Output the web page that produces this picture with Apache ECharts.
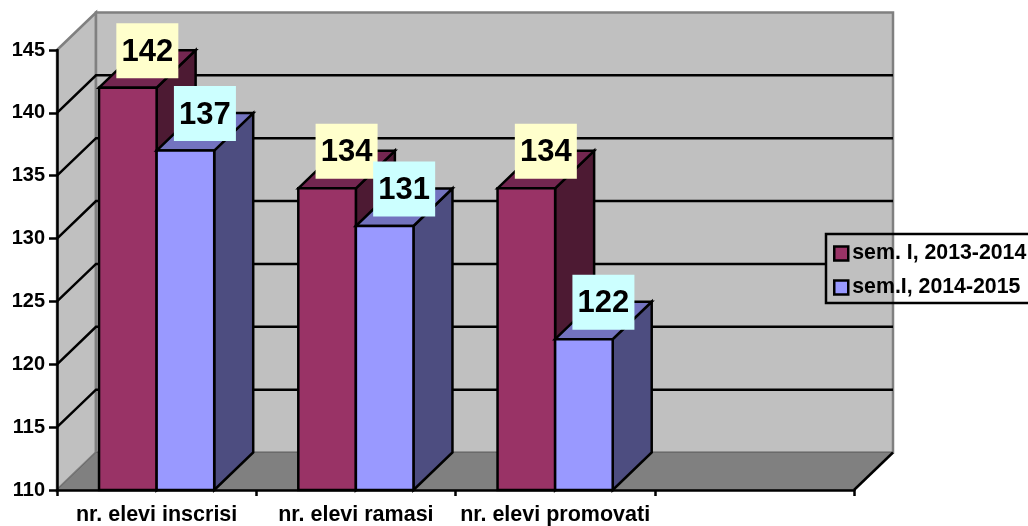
<!DOCTYPE html>
<html><head><meta charset="utf-8">
<style>html,body{margin:0;padding:0;background:#fff}#c{width:1028px;height:526px}</style>
<script src="https://cdn.jsdelivr.net/npm/echarts@6/dist/echarts.min.js"></script>
</head><body><div id="c"></div>
<script>
var categories = ['nr. elevi inscrisi', 'nr. elevi ramasi', 'nr. elevi promovati', ''];
var seriesNames = ['sem. I, 2013-2014', 'sem.I, 2014-2015'];
var sem1 = [142, 134, 134];
var sem2 = [137, 131, 122];
var gridValues = [115, 120, 125, 130, 135, 140];

var DX = 39, DY = 37.5, BAR = 0.289;
var LEGEND_LEFT = 826;
var FONT = '"Liberation Sans", Arial, sans-serif';

function wallsItem(params, api) {
  var cs = params.coordSys;
  var x0 = cs.x, x1 = cs.x + cs.width, y0 = cs.y, y1 = cs.y + cs.height;
  var ch = [];
  ch.push({type:'polygon', shape:{points:[[x0,y0],[x0+DX,y0-DY],[x0+DX,y1-DY],[x0,y1]]},
    style:{fill:'#C0C0C0', stroke:'#808080', lineWidth:2.5}});
  ch.push({type:'rect', shape:{x:x0+DX,y:y0-DY,width:cs.width,height:cs.height},
    style:{fill:'#C0C0C0', stroke:'#808080', lineWidth:2.5}});
  ch.push({type:'polygon', shape:{points:[[x0,y1],[x0+DX,y1-DY],[x1+DX,y1-DY],[x1,y1]]},
    style:{fill:'#808080', stroke:'#6A6A6A', lineWidth:1}});
  ch.push({type:'line', shape:{x1:x1,y1:y1,x2:x1+DX,y2:y1-DY}, style:{stroke:'#000',lineWidth:2.5}});
  gridValues.forEach(function (v) {
    var y = api.coord([0, v])[1];
    var end = x1 + DX;
    if (y - DY > 234 && y - DY < 303) end = LEGEND_LEFT;
    ch.push({type:'polyline', shape:{points:[[x0,y],[x0+DX,y-DY],[end,y-DY]]},
      style:{fill:null, stroke:'#000', lineWidth:2.5}});
  });
  return {type:'group', children:ch};
}

function barItem(slot, front, top, side, labelBg, z) {
  return function (params, api) {
    var p = api.coord([api.value(0), api.value(1)]);
    var band = api.size([1, 0])[0];
    var w = band * BAR;
    var l = p[0] - w + slot * w, r = l + w;
    var t = p[1], b = api.coord([0, 110])[1];
    var stroke = {stroke:'#000', lineWidth:2.5, lineJoin:'miter'};
    var lx = (l + r) / 2 + DX / 2, ly = t - DY;
    var val = String(api.value(1));
    return {type:'group', children:[
      {type:'polygon', z2:z, shape:{points:[[r,b],[r+DX,b-DY],[r+DX,t-DY],[r,t]]}, style:Object.assign({fill:side},stroke)},
      {type:'polygon', z2:z, shape:{points:[[l,t],[l+DX,t-DY],[r+DX,t-DY],[r,t]]}, style:Object.assign({fill:top},stroke)},
      {type:'rect', z2:z, shape:{x:l,y:t,width:w,height:b-t}, style:Object.assign({fill:front},stroke)},
      {type:'rect', z2:10, shape:{x:lx-31,y:ly-27,width:62,height:55}, style:{fill:labelBg}},
      {type:'text', z2:11, style:{x:lx,y:ly+2,text:val,fill:'#000',align:'center',verticalAlign:'middle',
        font:'bold 31px '+FONT}}
    ]};
  };
}

function rows(a) { return a.map(function (v, i) { return [i, v]; }); }

var chart = echarts.init(document.getElementById('c'), null, {renderer:'canvas'});
chart.setOption({
  animation:false,
  backgroundColor:'#fff',
  grid:{left:57, top:50, width:797, height:440, containLabel:false, outerBoundsMode:'none'},
  legend:{
    show:true, orient:'vertical', left:LEGEND_LEFT, top:234, data:seriesNames,
    padding:[9,8,5,7], itemWidth:14, itemHeight:14, itemGap:13, icon:'rect',
    borderColor:'#000', borderWidth:2.5, backgroundColor:'transparent',
    textStyle:{fontFamily:FONT, fontWeight:'bold', fontSize:21.3, color:'#000', padding:[0,0,0,-1]},
    itemStyle:{borderColor:'#000', borderWidth:2.5}, selectedMode:false
  },
  xAxis:{type:'category', data:categories, z:3,
    axisLine:{show:true, onZero:false, lineStyle:{color:'#000', width:2.5}},
    axisTick:{show:true, length:6, alignWithLabel:false, lineStyle:{color:'#000', width:2.5}},
    axisLabel:{interval:0, margin:14, color:'#000', fontFamily:FONT, fontWeight:'bold', fontSize:21.5},
    splitLine:{show:false}
  },
  yAxis:{type:'value', min:110, max:145, interval:5, z:3,
    axisLine:{show:true, lineStyle:{color:'#000', width:2.5}},
    axisTick:{show:true, length:8, lineStyle:{color:'#000', width:2.5}},
    axisLabel:{margin:12, color:'#000', fontFamily:FONT, fontWeight:'bold', fontSize:20},
    splitLine:{show:false}
  },
  series:[
    {type:'custom', name:'walls', silent:true, clip:false, z:1, renderItem:wallsItem,
     data:[[0,110]], encode:{x:0,y:1}},
    {type:'custom', name:seriesNames[0], silent:true, clip:false, z:2, itemStyle:{color:'#993366'},
     renderItem:barItem(0,'#993366','#732650','#4D1A33','#FFFFCC',0), data:rows(sem1), encode:{x:0,y:1}},
    {type:'custom', name:seriesNames[1], silent:true, clip:false, z:2, itemStyle:{color:'#9999FF'},
     renderItem:barItem(1,'#9999FF','#7373BF','#4D4D80','#CCFFFF',1), data:rows(sem2), encode:{x:0,y:1}}
  ]
});
</script></body></html>
